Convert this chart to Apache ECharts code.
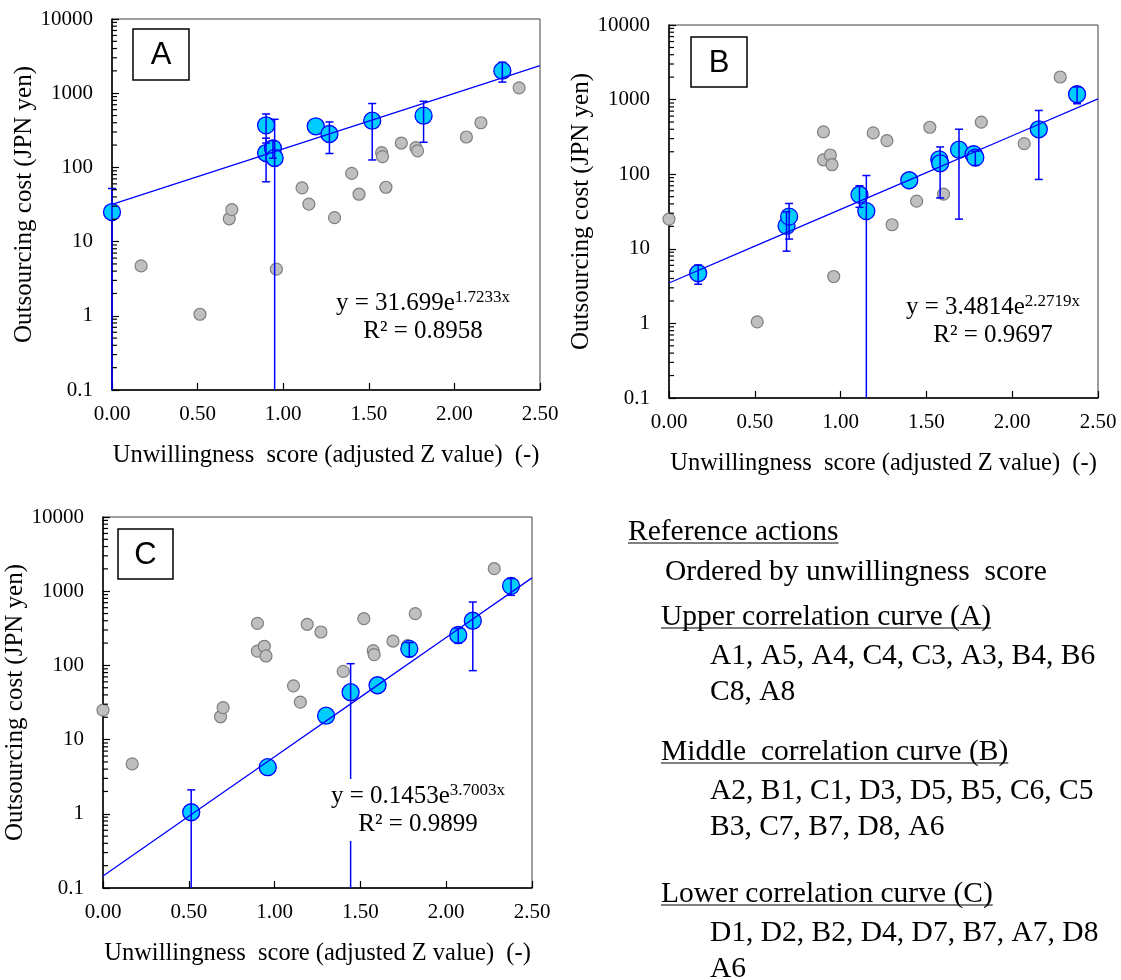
<!DOCTYPE html>
<html>
<head>
<meta charset="utf-8">
<script src="https://cdn.jsdelivr.net/npm/echarts@6/dist/echarts.min.js"></script>
<style>
  html, body { margin: 0; padding: 0; background: #ffffff; }
  #chart { width: 1121px; height: 980px; }
</style>
</head>
<body>
<div id="chart"></div>
<script>
// Reference actions: unwillingness score (adjusted Z value), outsourcing cost (JPN yen) and its SD
const actionCodes = ['A1','A5','A4','C4','C3','A3','B4','B6','C8','A8',
                     'A2','B1','C1','D3','D5','B5','C6','C5','B3','C7','B7','D8','A6',
                     'D1','D2','B2','D4','D7','A7'];
const unwillingnessScore = [0.00, 0.90, 0.90, 0.94, 0.95, 1.19, 1.27, 1.52, 1.82, 2.28,
                            0.17, 0.685, 0.70, 1.11, 1.15, 1.40, 1.575, 1.58, 1.69, 1.775, 1.785, 2.155, 2.378,
                            0.514, 0.96, 1.30, 1.443, 1.60, 2.07];
const outsourcingCost = [25, 369, 156, 181, 134, 358, 282, 426, 498, 2010,
                         4.7, 20.3, 27, 53, 32, 83, 158, 140, 213, 185, 167, 400, 1180,
                         1.05, 4.25, 21, 43.5, 54, 257];
const costSD = [27, 156, 92, 48, 311, null, 128, 300, 280, 600,
                1.35, 11, 13.5, 17, 64, null, null, 92, 188, null, 36, 315, 300,
                1.05, null, null, 62, null, 58];

// Members of each correlation curve, ordered by unwillingness score
const groupA = ['A1','A5','A4','C4','C3','A3','B4','B6','C8','A8'];
const groupB = ['A2','B1','C1','D3','D5','B5','C6','C5','B3','C7','B7','D8','A6'];
const groupC = ['D1','D2','B2','D4','D7','B7','A7','D8','A6'];

// Exponential fits y = a * e^(b x)
const panelLetters = ['A', 'B', 'C'];
const fitCoef = [31.699, 3.4814, 0.1453];
const fitExp = [1.7233, 2.2719, 3.7003];
const fitR2 = ['0.8958', '0.9697', '0.9899'];

// Axis ticks
const xTicks = [0, 0.5, 1.0, 1.5, 2.0, 2.5];
const yTicks = [0.1, 1, 10, 100, 1000, 10000];

const xName = 'Unwillingness  score (adjusted Z value)  (-)';
const yName = 'Outsourcing cost (JPN yen)';

// Right-hand listing
const listTitle = 'Reference actions';
const listSubtitle = 'Ordered by unwillingness  score';
const curveTitles = ['Upper correlation curve (A)', 'Middle  correlation curve (B)', 'Lower correlation curve (C)'];
const curveLines = [
  ['A1, A5, A4, C4, C3, A3, B4, B6', 'C8, A8'],
  ['A2, B1, C1, D3, D5, B5, C6, C5', 'B3, C7, B7, D8, A6'],
  ['D1, D2, B2, D4, D7, B7, A7, D8', 'A6']
];

const SERIF = '"Liberation Serif", "Times New Roman", serif';
const SANS = '"Liberation Sans", Arial, sans-serif';
const BLUE = '#0000ff';

const groups = [groupA, groupB, groupC];
const grids = [
  { left: 112, top: 19, width: 428, height: 371 },
  { left: 669, top: 25, width: 429, height: 373 },
  { left: 103, top: 517, width: 429, height: 371 }
];
const letterBoxes = [
  { x: 133, y: 29, w: 56, h: 51 },
  { x: 691, y: 37, w: 56, h: 50 },
  { x: 118, y: 529, w: 55, h: 50 }
];
const eqPos = [[423, 317], [993, 321], [418, 810]];

const yMin = yTicks[0];
const yMax = yTicks[yTicks.length - 1];

function idx(code) { return actionCodes.indexOf(code); }

const minorTickValues = [];
for (let k = 0; k < yTicks.length - 1; k++) {
  for (let m = 2; m <= 9; m++) minorTickValues.push(+(m * yTicks[k]).toPrecision(6));
}

const xAxes = [], yAxes = [], series = [], graphics = [];

grids.forEach((g, i) => {
  xAxes.push({
    gridIndex: i, type: 'value',
    min: xTicks[0], max: xTicks[xTicks.length - 1], interval: 0.5,
    axisLine: { show: true, onZero: false, lineStyle: { color: '#000', width: 1.5 } },
    axisTick: { show: true, inside: true, length: 7, lineStyle: { color: '#000', width: 1.2 } },
    axisLabel: { color: '#000', fontFamily: SERIF, fontSize: 21, margin: 14,
                 formatter: v => v.toFixed(2) },
    splitLine: { show: false },
    name: xName, nameLocation: 'middle', nameGap: 53,
    nameTextStyle: { color: '#000', fontFamily: SERIF, fontSize: 24.5 }
  });
  yAxes.push({
    gridIndex: i, type: 'log', logBase: 10, min: yMin, max: yMax,
    axisLine: { show: true, onZero: false, lineStyle: { color: '#000', width: 1.5 } },
    axisTick: { show: true, inside: true, length: 7, lineStyle: { color: '#000', width: 1.2 } },
    axisLabel: { color: '#000', fontFamily: SERIF, fontSize: 21, margin: 19,
                 formatter: v => String(+(+v).toPrecision(6)) },
    splitLine: { show: false },
    minorTick: { show: false },
    name: yName, nameLocation: 'middle', nameGap: 66, nameRotate: 90,
    nameTextStyle: { color: '#000', fontFamily: SERIF, fontSize: 25 }
  });

  const members = groups[i];
  const grayData = [], blueData = [], errData = [];
  actionCodes.forEach((code, j) => {
    const pt = [unwillingnessScore[j], outsourcingCost[j]];
    if (members.indexOf(code) < 0) grayData.push(pt);
  });
  members.forEach(code => {
    const j = idx(code);
    blueData.push([unwillingnessScore[j], outsourcingCost[j]]);
    if (costSD[j] != null) errData.push([unwillingnessScore[j], outsourcingCost[j], costSD[j]]);
  });

  // other actions (grey)
  series.push({
    type: 'scatter', xAxisIndex: i, yAxisIndex: i, data: grayData, z: 2, clip: false,
    symbol: 'circle', symbolSize: 12, silent: true,
    itemStyle: { color: '#bfbfbf', borderColor: '#7f7f7f', borderWidth: 1.2, opacity: 1 }
  });
  // actions on this correlation curve
  series.push({
    type: 'scatter', xAxisIndex: i, yAxisIndex: i, data: blueData, z: 3, clip: false,
    symbol: 'circle', symbolSize: 17, silent: true,
    itemStyle: { color: '#00ccff', borderColor: BLUE, borderWidth: 1.3, opacity: 1 }
  });
  // error bars (± SD); a negative lower limit runs to the bottom of the plot
  series.push({
    type: 'custom', xAxisIndex: i, yAxisIndex: i, data: errData, z: 4, silent: true,
    encode: { x: 0, y: 1 },
    renderItem: (params, api) => {
      const x = api.value(0), y = api.value(1), sd = api.value(2);
      const cs = params.coordSys;
      const top = api.coord([x, y + sd]);
      const low = y - sd;
      const hasLow = low > yMin;
      const by = hasLow ? api.coord([x, low])[1] : cs.y + cs.height;
      const hw = 4;
      const st = { stroke: BLUE, lineWidth: 1.5, fill: null };
      const children = [
        { type: 'line', shape: { x1: top[0], y1: top[1], x2: top[0], y2: by }, style: st },
        { type: 'line', shape: { x1: top[0] - hw, y1: top[1], x2: top[0] + hw, y2: top[1] }, style: st }
      ];
      if (hasLow) children.push({ type: 'line', shape: { x1: top[0] - hw, y1: by, x2: top[0] + hw, y2: by }, style: st });
      return { type: 'group', children };
    }
  });
  // exponential trend line
  series.push({
    type: 'line', xAxisIndex: i, yAxisIndex: i, z: 5, silent: true,
    showSymbol: false, symbol: 'none',
    lineStyle: { color: BLUE, width: 1.3 },
    data: xTicks.map(x => [x, fitCoef[i] * Math.exp(fitExp[i] * x)])
  });
  // log minor ticks (2..9 in each decade)
  series.push({
    type: 'custom', xAxisIndex: i, yAxisIndex: i, z: 6, silent: true,
    data: minorTickValues.map(v => [xTicks[0], v]),
    encode: { x: 0, y: 1 },
    renderItem: (params, api) => {
      const cs = params.coordSys;
      const p = api.coord([api.value(0), api.value(1)]);
      return { type: 'line', shape: { x1: cs.x, y1: p[1], x2: cs.x + 5, y2: p[1] },
               style: { stroke: '#000', lineWidth: 1.2 } };
    }
  });

  // panel letter
  const lb = letterBoxes[i];
  graphics.push({
    type: 'rect', shape: { x: lb.x, y: lb.y, width: lb.w, height: lb.h }, z: 20,
    style: { fill: '#fff', stroke: '#000', lineWidth: 1.5 }
  });
  graphics.push({
    type: 'text', x: lb.x + lb.w / 2, y: lb.y + lb.h / 2 + 1, z: 21,
    style: { text: panelLetters[i], fill: '#000', font: '31px ' + SANS, align: 'center', verticalAlign: 'middle' }
  });

  // fit equation
  graphics.push({
    type: 'text', x: eqPos[i][0], y: eqPos[i][1], z: 22,
    style: {
      text: '{m|y = ' + fitCoef[i] + 'e}{s|' + fitExp[i] + 'x}\n{m|R² = ' + fitR2[i] + '}',
      align: 'center', verticalAlign: 'middle',
      backgroundColor: '#fff', padding: [3, 2, 3, 2],
      rich: {
        m: { fontFamily: SERIF, fontSize: 25, lineHeight: 28, fill: '#000', color: '#000' },
        s: { fontFamily: SERIF, fontSize: 17, lineHeight: 17, verticalAlign: 'top', fill: '#000', color: '#000' }
      }
    }
  });
});

// Right-hand listing with underlined headings
const measureCtx = document.createElement('canvas').getContext('2d');
function textWidth(str, size) {
  measureCtx.font = size + 'px ' + SERIF;
  return measureCtx.measureText(str).width;
}
const LIST_FONT = 29.5;
function listText(str, x, y, underline) {
  graphics.push({
    type: 'text', x, y, z: 20,
    style: { text: str, fill: '#000', font: LIST_FONT + 'px ' + SERIF, align: 'left', verticalAlign: 'middle' }
  });
  if (underline) {
    const w = textWidth(str, LIST_FONT);
    graphics.push({
      type: 'line', z: 20,
      shape: { x1: x, y1: y + 11, x2: x + w, y2: y + 11 },
      style: { stroke: '#000', lineWidth: 1.2 }
    });
  }
}
listText(listTitle, 628, 532, true);
listText(listSubtitle, 665, 572, false);
const headY = [617, 752, 894];
curveTitles.forEach((t, k) => {
  listText(t, 661, headY[k], true);
  listText(curveLines[k][0], 710, headY[k] + 39, false);
  listText(curveLines[k][1], 710, headY[k] + 75, false);
});

const chart = echarts.init(document.getElementById('chart'), null, { renderer: 'canvas' });
chart.setOption({
  animation: false,
  backgroundColor: '#ffffff',
  grid: grids.map(g => Object.assign({ show: true, borderColor: '#404040', borderWidth: 1, backgroundColor: 'transparent' }, g)),
  xAxis: xAxes,
  yAxis: yAxes,
  series,
  graphic: graphics
});
</script>
</body>
</html>
